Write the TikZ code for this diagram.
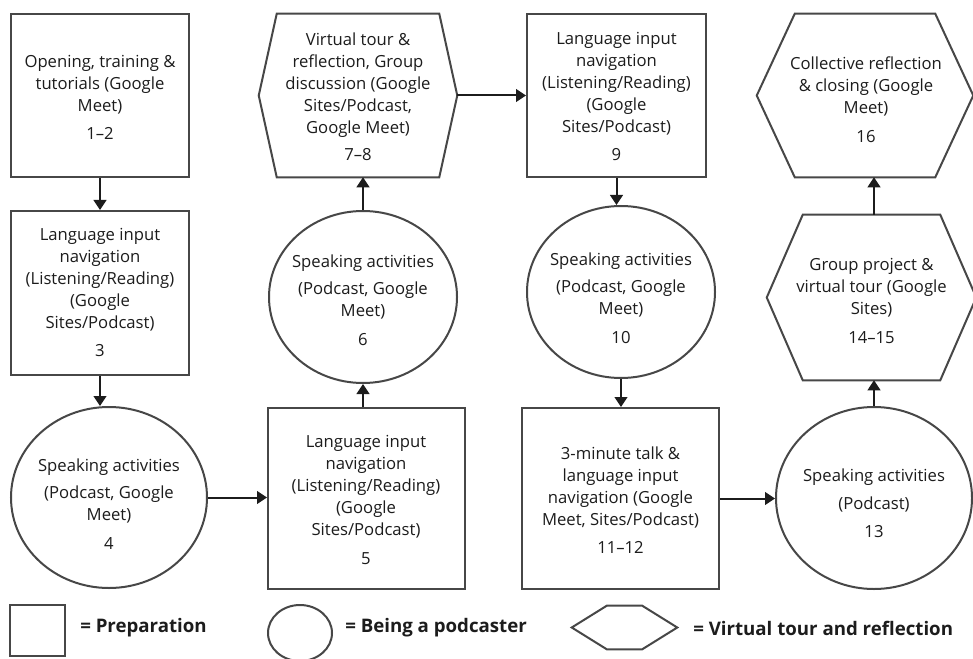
\documentclass[tikz,border=0pt]{standalone}
\usepackage{fontspec}
\setmainfont{Open Sans}
\usetikzlibrary{shapes.geometric,arrows.meta}
\definecolor{edge}{HTML}{474747}
\definecolor{ink}{HTML}{1C1C1C}
% outline of a stretched hexagon fitted to a node's box; #2 = horizontal inset of the top/bottom edges
\newcommand\hexoutline[2]{%
  \draw[outline] ([xshift=#2*0.75pt]#1.north west) -- ([xshift=-#2*0.75pt]#1.north east)
    -- (#1.east) -- ([xshift=-#2*0.75pt]#1.south east)
    -- ([xshift=#2*0.75pt]#1.south west) -- (#1.west) -- cycle;}
\begin{document}
\begin{tikzpicture}[x=0.75pt,y=-0.75pt,
  outline/.style={draw=edge, line width=1.5pt},
  prep/.style 2 args={outline, rectangle, inner sep=0pt,
    minimum width=#1*0.75pt, minimum height=#2*0.75pt},
  pod/.style 2 args={outline, ellipse, inner sep=0pt,
    minimum width=#1*0.75pt, minimum height=#2*0.75pt},
  tour/.style 2 args={rectangle, inner sep=0pt,
    minimum width=#1*0.75pt, minimum height=#2*0.75pt},
  txt/.style={align=center, inner sep=0pt, text=ink,
    font=\fontsize{12.5}{16.5}\selectfont},
  key/.style={inner sep=0pt, text=ink, anchor=west,
    font=\fontsize{14}{16.5}\selectfont\bfseries},
  flow/.style={draw=ink, line width=1.5pt,
    -{Triangle[length=7.5pt,width=9.5pt]}}
]
\useasboundingbox[fill=white] (0,0) rectangle (973,659);

% ---- steps ----
\node[prep={178}{163}] (b1) at (100,95.5) {};
\node[txt] (t1) at (100,97.5) {Opening, training \&\\tutorials (Google\\Meet)\\[5pt]1–2};

\node[prep={178}{164}] (b2) at (100,293) {};
\node[txt] (t2) at (100,292.5) {Language input\\navigation\\(Listening/Reading)\\(Google\\Sites/Podcast)\\[5pt]3};

\node[pod={196}{181}] (c4) at (109,497.5) {};
\node[txt] (t4) at (109,504) {Speaking activities\\[4pt](Podcast, Google\\Meet)\\[5pt]4};

\node[prep={197}{181}] (b5) at (366.5,498.5) {};
\node[txt] (t5) at (366,500) {Language input\\navigation\\(Listening/Reading)\\(Google\\Sites/Podcast)\\[5pt]5};

\node[pod={188}{172}] (c6) at (363,297) {};
\node[txt] (t6) at (363,300) {Speaking activities\\[4pt](Podcast, Google\\Meet)\\[5pt]6};

\node[tour={198}{163}] (h7) at (358,95.5) {};
\hexoutline{h7}{18}
\node[txt] (t7) at (358,97) {Virtual tour \&\\reflection, Group\\discussion (Google\\Sites/Podcast,\\Google Meet)\\[4pt]7–8};

\node[prep={179}{163}] (b9) at (616.5,95.5) {};
\node[txt] (t9) at (616.5,96.5) {Language input\\navigation\\(Listening/Reading)\\(Google\\Sites/Podcast)\\[5pt]9};

\node[pod={188}{172}] (c10) at (621,292) {};
\node[txt] (t10) at (621,298) {Speaking activities\\[4pt](Podcast, Google\\Meet)\\[5pt]10};

\node[prep={197}{181}] (b11) at (620.5,498.5) {};
\node[txt] (t11) at (620.5,500) {3-minute talk \&\\language input\\navigation (Google\\Meet, Sites/Podcast)\\[5pt]11–12};

\node[pod={196}{182}] (c13) at (874,498) {};
\node[txt] (t13) at (874,503.5) {Speaking activities\\[4pt](Podcast)\\[5pt]13};

\node[tour={209}{165}] (h14) at (871.5,297.5) {};
\hexoutline{h14}{36}
\node[txt] (t14) at (871.5,301) {Group project \&\\virtual tour (Google\\Sites)\\[5pt]14–15};

\node[tour={216}{163}] (h16) at (865,95.5) {};
\hexoutline{h16}{38}
\node[txt] (t16) at (866,99.5) {Collective reflection\\\& closing (Google\\Meet)\\[5pt]16};

% ---- connectors ----
\draw[flow] (b1.south) -- (b2.north);
\draw[flow] (b2.south) -- (b2.south |- c4.north);
\draw[flow] (c4.east) -- (c4.east -| b5.west);
\draw[flow] (c6.south |- b5.north) -- (c6.south);
\draw[flow] (c6.north) -- (c6.north |- h7.south);
\draw[flow] (h7.east) -- (h7.east -| b9.west);
\draw[flow] (b9.south) -- (b9.south |- c10.north);
\draw[flow] (c10.south) -- (c10.south |- b11.north);
\draw[flow] (b11.east) -- (b11.east -| c13.west);
\draw[flow] (c13.north) -- (c13.north |- h14.south);
\draw[flow] (c13.north |- h14.north) -- (c13.north |- h16.south);

% ---- legend ----
\node[prep={55}{51}] (lp) at (37.5,630) {};
\node[key] (lpt) at (80,628) {= Preparation};
\node[pod={64}{56}] (le) at (300,633) {};
\node[key] (let) at (345,628) {= Being a podcaster};
\node[tour={105}{43}] (lh) at (624.5,627.5) {};
\hexoutline{lh}{35}
\node[key] (lht) at (693,628) {= Virtual tour and reflection};
\end{tikzpicture}
\end{document}
